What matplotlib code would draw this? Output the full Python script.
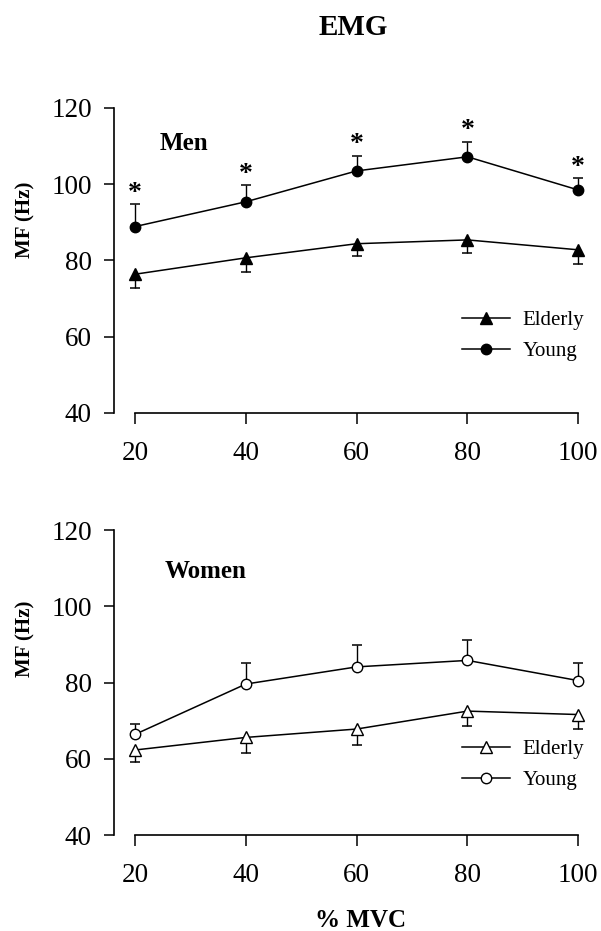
import numpy as np
import matplotlib
matplotlib.use("Agg")
import matplotlib.pyplot as plt

plt.rcParams["font.family"] = ["Liberation Serif", "DejaVu Serif"]

# Data
mvc = [20, 40, 60, 80, 100]

men_young = [88.9, 95.4, 103.5, 107.2, 98.5]
men_young_err = [5.9, 4.4, 4.0, 4.0, 3.2]
men_elderly = [76.4, 80.7, 84.4, 85.4, 82.8]
men_elderly_err = [3.7, 3.6, 3.2, 3.5, 3.8]

women_young = [66.4, 79.6, 84.1, 85.8, 80.5]
women_young_err = [2.8, 5.5, 5.8, 5.3, 4.7]
women_elderly = [62.3, 65.6, 67.8, 72.5, 71.6]
women_elderly_err = [3.1, 4.0, 4.2, 3.9, 3.9]

y_ticks = [40, 60, 80, 100, 120]
x_ticks = [20, 40, 60, 80, 100]


def style_axis(ax):
    ax.set_xlim(16.2, 101)
    ax.set_ylim(40, 120)
    ax.spines["top"].set_visible(False)
    ax.spines["right"].set_visible(False)
    ax.spines["bottom"].set_bounds(20, 100)
    ax.spines["left"].set_linewidth(1.2)
    ax.spines["bottom"].set_linewidth(1.2)
    ax.set_xticks(x_ticks)
    ax.set_yticks(y_ticks)
    ax.tick_params(axis="y", direction="out", length=7, width=1.1, pad=9, labelsize=19.5)
    ax.tick_params(axis="x", direction="out", length=8, width=1.1, pad=12, labelsize=19.5)


def one_sided_err(ax, x, y, err, up=True):
    x = np.array(x)
    y = np.array(y)
    err = np.array(err)
    end = y + err if up else y - err
    ax.vlines(x, y, end, colors="black", linewidth=1.0, zorder=2)
    ax.plot(x, end, ls="none", marker="_", markersize=7, markeredgewidth=1.1,
            color="black", zorder=2)


fig = plt.figure(figsize=(6.01, 9.31), dpi=100)
ax1 = fig.add_axes([0.1897, 0.5564, 0.7817, 0.3276])
ax2 = fig.add_axes([0.1897, 0.1031, 0.7817, 0.3276])

# Men
one_sided_err(ax1, mvc, men_young, men_young_err, up=True)
one_sided_err(ax1, mvc, men_elderly, men_elderly_err, up=False)
ax1.plot(mvc, men_elderly, color="black", lw=1.1, marker="^", markersize=8,
         label="Elderly", zorder=3, clip_on=False)
ax1.plot(mvc, men_young, color="black", lw=1.1, marker="o", markersize=7.5,
         label="Young", zorder=3, clip_on=False)
for xi, yi, ei in zip(mvc, men_young, men_young_err):
    ax1.annotate("*", xy=(xi, yi + ei), xytext=(0, 3), textcoords="offset points",
                 ha="center", va="baseline", fontsize=20, fontweight="bold")
ax1.text(0.098, 0.862, "Men", transform=ax1.transAxes, fontsize=18, fontweight="bold")
style_axis(ax1)
ax1.legend(loc="center left", bbox_to_anchor=(0.741, 0.254), frameon=False,
           fontsize=15, handlelength=2.3, handletextpad=0.6, labelspacing=0.55,
           borderpad=0, borderaxespad=0)

# Women
one_sided_err(ax2, mvc, women_young, women_young_err, up=True)
one_sided_err(ax2, mvc, women_elderly, women_elderly_err, up=False)
ax2.plot(mvc, women_elderly, color="black", lw=1.1, marker="^", markersize=8,
         markerfacecolor="white", markeredgewidth=1.0, label="Elderly", zorder=3,
         clip_on=False)
ax2.plot(mvc, women_young, color="black", lw=1.1, marker="o", markersize=7.5,
         markerfacecolor="white", markeredgewidth=1.0, label="Young", zorder=3,
         clip_on=False)
ax2.text(0.1086, 0.843, "Women", transform=ax2.transAxes, fontsize=18, fontweight="bold")
style_axis(ax2)
ax2.legend(loc="center left", bbox_to_anchor=(0.741, 0.2295), frameon=False,
           fontsize=15, handlelength=2.3, handletextpad=0.6, labelspacing=0.55,
           borderpad=0, borderaxespad=0)

# Titles and labels
fig.text(353 / 601, 1 - 35 / 931, "EMG", ha="center", va="baseline",
         fontsize=21, fontweight="bold")
fig.text(361 / 601, 1 - 927 / 931, "% MVC", ha="center", va="baseline",
         fontsize=18, fontweight="bold")
fig.text(25 / 601, 1 - 220 / 931, "MF (Hz)", rotation=90, ha="center", va="center",
         fontsize=15, fontweight="bold")
fig.text(25 / 601, 1 - 639 / 931, "MF (Hz)", rotation=90, ha="center", va="center",
         fontsize=15, fontweight="bold")

fig.savefig("out.png", dpi=100)
